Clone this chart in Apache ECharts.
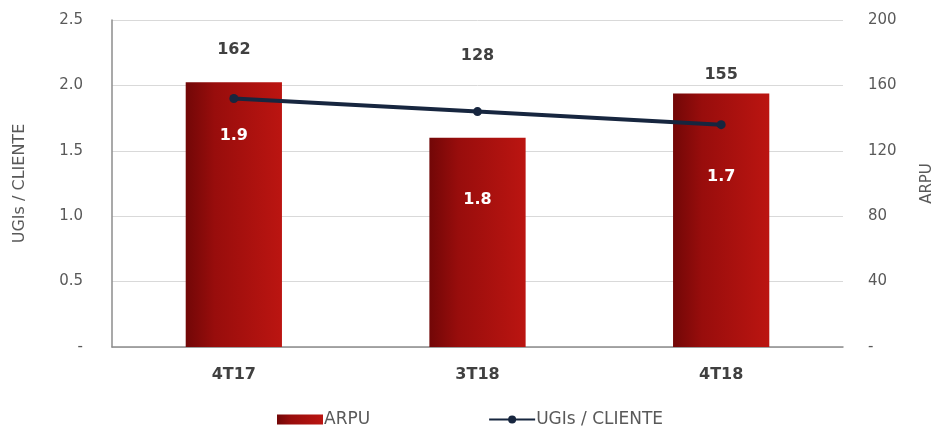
<!DOCTYPE html>
<html>
<head>
<meta charset="utf-8">
<script src="https://cdn.jsdelivr.net/npm/echarts@6/dist/echarts.min.js"></script>
<style>
html,body{margin:0;padding:0;background:#fff;}
#chart{width:933px;height:430px;}
</style>
</head>
<body>
<div id="chart"></div>
<script>
// Data
const categories = ['4T17', '3T18', '4T18'];
const arpu = [162, 128, 155];
const ugis = [1.9, 1.8, 1.7];
const leftTicks = [0, 0.5, 1.0, 1.5, 2.0, 2.5];
const rightTicks = [0, 40, 80, 120, 160, 200];

// Label placement (layout only)
const arpuLabelDy = [-19, -69, -6];
const ugisLabelDy = [37, 88, 52];

const font = 'DejaVu Sans, Verdana, sans-serif';
const chart = echarts.init(document.getElementById('chart'));

const barGradient = new echarts.graphic.LinearGradient(0, 0, 1, 0, [
  {offset: 0, color: '#720707'},
  {offset: 0.3, color: '#980d0c'},
  {offset: 1, color: '#bb1511'}
]);

chart.setOption({
  animation: false,
  textStyle: {fontFamily: font},
  grid: {left: 112, right: 90, top: 20, bottom: 83, outerBoundsMode: 'none', containLabel: false},
  legend: {
    bottom: -3,
    left: 272,
    itemGap: 118,
    itemWidth: 46,
    itemHeight: 10,
    textStyle: {fontFamily: font, fontSize: 17, color: '#595959', padding: [0, 0, 0, -4]},
    data: [
      {name: 'ARPU', icon: 'rect'},
      {name: 'UGIs / CLIENTE'}
    ]
  },
  xAxis: {
    type: 'category',
    data: categories,
    axisLine: {lineStyle: {color: '#8c8c8c', width: 1.5}},
    axisTick: {show: false},
    axisLabel: {fontFamily: font, fontSize: 16, fontWeight: 'bold', color: '#404040', margin: 20}
  },
  yAxis: [
    {
      type: 'value',
      min: leftTicks[0],
      max: leftTicks[leftTicks.length - 1],
      interval: 0.5,
      name: 'UGIs / CLIENTE',
      nameLocation: 'middle',
      nameRotate: 90,
      nameGap: 84,
      nameTextStyle: {fontFamily: font, fontSize: 16, color: '#595959'},
      axisLine: {show: true, lineStyle: {color: '#8c8c8c', width: 1.5}},
      axisTick: {show: false},
      splitLine: {lineStyle: {color: '#d9d9d9', width: 1}},
      axisLabel: {
        fontFamily: font, fontSize: 15, color: '#595959', margin: 29,
        formatter: v => v === 0 ? '-' : v.toFixed(1)
      }
    },
    {
      type: 'value',
      min: rightTicks[0],
      max: rightTicks[rightTicks.length - 1],
      interval: 40,
      position: 'right',
      name: 'ARPU',
      nameLocation: 'middle',
      nameRotate: 90,
      nameGap: 77,
      nameTextStyle: {fontFamily: font, fontSize: 15, color: '#595959'},
      axisLine: {show: false},
      axisTick: {show: false},
      splitLine: {show: false},
      axisLabel: {
        fontFamily: font, fontSize: 15, color: '#595959', margin: 25,
        formatter: v => v === 0 ? '-' : String(v)
      }
    }
  ],
  series: [
    {
      name: 'ARPU',
      type: 'bar',
      yAxisIndex: 1,
      barWidth: '39.5%',
      itemStyle: {color: barGradient},
      data: arpu.map((v, i) => ({
        value: v,
        label: {offset: [0, arpuLabelDy[i]]}
      })),
      label: {
        show: true,
        position: 'top',
        fontFamily: font,
        fontSize: 16,
        fontWeight: 'bold',
        color: '#404040'
      },
      z: 2
    },
    {
      name: 'UGIs / CLIENTE',
      type: 'line',
      yAxisIndex: 0,
      symbol: 'circle',
      symbolSize: 9,
      lineStyle: {color: '#17263f', width: 4},
      itemStyle: {color: '#17263f'},
      data: ugis.map((v, i) => ({
        value: v,
        label: {offset: [0, ugisLabelDy[i]]}
      })),
      label: {
        show: true,
        position: 'inside',
        fontFamily: font,
        fontSize: 16,
        fontWeight: 'bold',
        color: '#ffffff',
        formatter: p => p.value.toFixed(1)
      },
      z: 3
    }
  ]
});
</script>
</body>
</html>
